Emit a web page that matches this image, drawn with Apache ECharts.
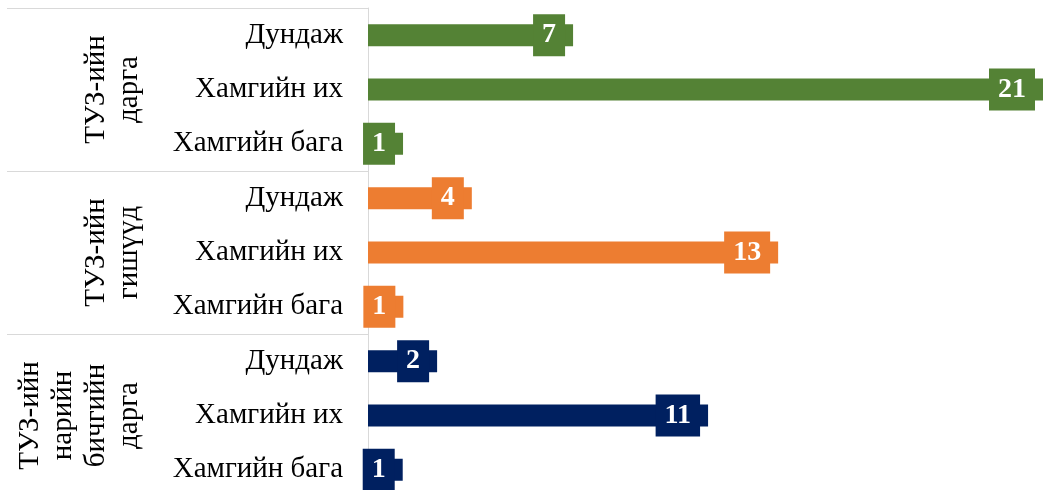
<!DOCTYPE html>
<html>
<head>
<meta charset="utf-8">
<script src="https://cdn.jsdelivr.net/npm/echarts@6/dist/echarts.min.js"></script>
<style>
html,body{margin:0;padding:0;background:#fff;}
#chart{width:1043px;height:490px;}
</style>
</head>
<body>
<div id="chart"></div>
<script>
// Group (outer) labels
const groups = ['ТУЗ-ийн\nдарга', 'ТУЗ-ийн\nгишүүд', 'ТУЗ-ийн\nнарийн\nбичгийн\nдарга'];
// Inner category labels (repeated in each group)
const subCategories = ['Дундаж', 'Хамгийн их', 'Хамгийн бага'];
// Bar lengths
const chairValues = [6.38, 21, 1.09];
const memberValues = [3.23, 12.76, 1.1];
const secretaryValues = [2.15, 10.58, 1.08];
// Data labels as printed on the bars
const chairLabels = ['7', '21', '1'];
const memberLabels = ['4', '13', '1'];
const secretaryLabels = ['2', '11', '1'];
const groupColors = ['#548235', '#ED7D31', '#002060'];

const FONT = '"Liberation Serif", "Times New Roman", serif';

const groupValues = [chairValues, memberValues, secretaryValues];
const groupLabels = [chairLabels, memberLabels, secretaryLabels];
const categories = [];
const data = [];
const labelTexts = [];
groupValues.forEach(function (vals, g) {
  vals.forEach(function (v, i) {
    categories.push(subCategories[i]);
    data.push({ value: v, itemStyle: { color: groupColors[g] }, label: { backgroundColor: groupColors[g] } });
    labelTexts.push(groupLabels[g][i]);
  });
});

const chart = echarts.init(document.getElementById('chart'), null, { renderer: 'canvas' });
chart.setOption({
  animation: false,
  backgroundColor: '#ffffff',
  grid: { left: 368, top: 8, right: 0, height: 489, containLabel: false, outerBoundsMode: 'none' },
  xAxis: { type: 'value', min: 0, max: 21, show: false },
  yAxis: [
    {
      type: 'category',
      data: categories,
      inverse: true,
      position: 'left',
      axisLine: { show: true, lineStyle: { color: '#d9d9d9', width: 1 } },
      axisTick: { show: false },
      splitLine: { show: false },
      axisLabel: { interval: 0, margin: 25, fontFamily: FONT, fontSize: 29, color: '#000' }
    },
    {
      type: 'category',
      data: groups,
      inverse: true,
      position: 'left',
      axisLine: { show: false },
      axisTick: { show: true, interval: 0, alignWithLabel: false, length: 361, lineStyle: { color: '#d9d9d9', width: 1 } },
      splitLine: { show: false },
      axisLabel: { interval: 0, rotate: 90, margin: 222, fontFamily: FONT, fontSize: 29, lineHeight: 33, color: '#000' }
    }
  ],
  series: [{
    type: 'bar',
    yAxisIndex: 0,
    barWidth: 22,
    data: data,
    label: {
      show: true,
      position: 'insideRight',
      distance: 8,
      formatter: function (p) { return labelTexts[p.dataIndex]; },
      fontFamily: FONT,
      fontSize: 28,
      fontWeight: 'bold',
      color: '#fff',
      lineHeight: 28,
      padding: [7, 9]
    }
  }]
});
</script>
</body>
</html>
